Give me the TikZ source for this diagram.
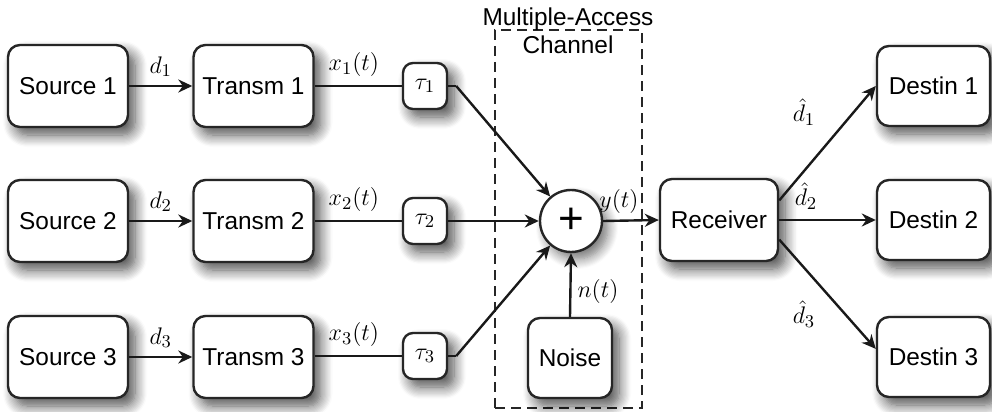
\documentclass[tikz,border=0pt]{standalone}
\usepackage{fontspec}
\setmainfont{Liberation Sans}
\usetikzlibrary{arrows.meta,shadows.blur,calc}

\tikzset{
  blk/.style={draw=black!85, line width=1.2pt, rounded corners=6pt, fill=white,
    minimum width=60pt, minimum height=41pt, inner sep=0pt,
    font=\fontsize{12.2}{14}\selectfont,
    blur shadow={shadow xshift=3.5pt, shadow yshift=-4pt, shadow blur radius=6pt,
      shadow opacity=70, shadow blur steps=10}},
  dst/.style={blk, minimum width=56.5pt, minimum height=40pt},
  dly/.style={blk, minimum width=22pt, minimum height=23pt, rounded corners=5pt,
    font=\fontsize{13}{15}\selectfont},
  sumnode/.style={circle, draw=black!85, line width=1.2pt, fill=white,
    minimum size=31pt, inner sep=0pt,
    blur shadow={shadow xshift=3pt, shadow yshift=-3.5pt, shadow blur radius=5pt,
      shadow opacity=55, shadow blur steps=10}},
  sig/.style={line width=1.2pt, draw=black!90},
  arr/.style={sig, -{Stealth[length=7pt,width=6.5pt]}},
  lbl/.style={font=\fontsize{13}{15}\selectfont, inner sep=1pt},
}

\begin{document}
\begin{tikzpicture}[x=0.5pt, y=-0.5pt]
  \useasboundingbox (0,0) rectangle (992,412);

  % multiple-access channel region
  \node[draw=black!85, line width=1.1pt, dash pattern=on 5pt off 3pt,
        minimum width=73.5pt, minimum height=189pt, inner sep=0pt]
        (chan) at (568.5,219) {};
  \node[align=center, font=\fontsize{12.2}{14}\selectfont, inner sep=0pt]
        (chanlbl) at (568,31) {Multiple-Access\\Channel};

  % sources and transmitters
  \node[blk] (s1) at (68,86)  {Source 1};
  \node[blk] (s2) at (68,221) {Source 2};
  \node[blk] (s3) at (68,357) {Source 3};
  \node[blk] (t1) at (253.5,86)  {Transm 1};
  \node[blk] (t2) at (253.5,221) {Transm 2};
  \node[blk] (t3) at (253.5,357) {Transm 3};

  % delays
  \node[dly] (d1) at (425,86)  {$\tau_1$};
  \node[dly] (d2) at (425,221) {$\tau_2$};
  \node[dly] (d3) at (425,356) {$\tau_3$};

  % adder, noise, receiver, destinations
  \node[sumnode] (sum) at (571,221) {\fontsize{22}{22}\selectfont +};
  \node[blk, minimum width=42pt, minimum height=40pt] (noise) at (570,358) {Noise};
  \node[blk, minimum width=59pt] (rx) at (719,220) {Receiver};
  \node[dst] (r1) at (933.5,86)  {Destin 1};
  \node[dst] (r2) at (933.5,220) {Destin 2};
  \node[dst] (r3) at (933.5,357) {Destin 3};

  % bend points after the delays
  \coordinate (b1) at ($(d1.east)+(8,0)$);
  \coordinate (b3) at ($(d3.east)+(8,0)$);

  % source -> transmitter
  \draw[arr] (s1) -- node[lbl, above, yshift=3pt] {$d_1$} (t1);
  \draw[arr] (s2) -- node[lbl, above, yshift=3pt] {$d_2$} (t2);
  \draw[arr] (s3) -- node[lbl, above, yshift=3pt] {$d_3$} (t3);

  % transmitter -> delay
  \draw[sig] (t1.east) -- node[lbl, above, pos=0.45, yshift=3pt] {$x_1(t)$} (d1.west);
  \draw[sig] (t2.east) -- node[lbl, above, pos=0.45, yshift=3pt] {$x_2(t)$} (d2.west);
  \draw[sig] (t3.east |- d3) -- node[lbl, above, pos=0.45, yshift=3pt] {$x_3(t)$} (d3.west);

  % delay -> adder
  \draw[sig] (d1.east) -- (b1);
  \draw[arr] (b1) -- (sum);
  \draw[arr] (d2.east) -- (sum.west);
  \draw[sig] (d3.east) -- (b3);
  \draw[arr] (b3) -- (sum);

  % noise -> adder
  \draw[arr] (noise.north) -- node[lbl, right, pos=0.4, xshift=2pt] {$n(t)$} (sum.south);

  % adder -> receiver
  \draw[arr] (sum.east) -- (rx.west);
  \node[lbl] (ylbl) at (619,201) {$y(t)$};

  % receiver -> destinations
  \draw[arr] (rx.18) -- (r1.west);
  \draw[arr] (rx.east) -- (r2.west);
  \draw[arr] (rx.-18) -- (r3.172);
  \node[lbl] (e1) at (804,112) {$\hat{d}_1$};
  \node[lbl] (e2) at (806,196) {$\hat{d}_2$};
  \node[lbl] (e3) at (804,314) {$\hat{d}_3$};
\end{tikzpicture}
\end{document}
